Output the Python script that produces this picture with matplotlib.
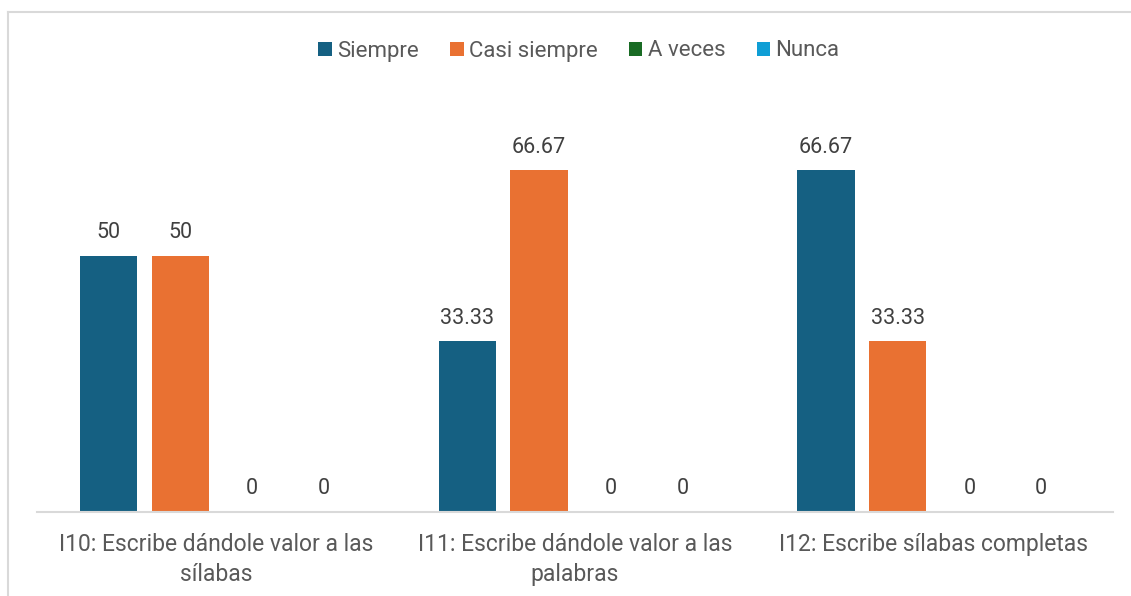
import matplotlib.pyplot as plt
from matplotlib.lines import Line2D
import numpy as np

categories = [
    "I10: Escribe dándole valor a las\nsílabas",
    "I11: Escribe dándole valor a las\npalabras",
    "I12: Escribe sílabas completas",
]
series_names = ["Siempre", "Casi siempre", "A veces", "Nunca"]
siempre = [50, 33.33, 66.67]
casi_siempre = [50, 66.67, 33.33]
a_veces = [0, 0, 0]
nunca = [0, 0, 0]
colors = ["#156082", "#E97132", "#196B24", "#0F9ED5"]

plt.rcParams["font.family"] = ["Roboto", "DejaVu Sans"]
text_color = "#595959"

fig = plt.figure(figsize=(11.31, 5.96), dpi=100)
ax = fig.add_axes([37 / 1131, 84 / 596, 1076 / 1131, 410 / 596])

x = np.arange(len(categories))
width = 0.16
offsets = [-0.3, -0.1, 0.1, 0.3]
for vals, name, color, off in zip([siempre, casi_siempre, a_veces, nunca], series_names, colors, offsets):
    bars = ax.bar(x + off, vals, width, color=color, label=name)
    ax.bar_label(bars, labels=[f"{v:g}" for v in vals], padding=9, fontsize=15.5, color="#404040")

ax.set_xlim(-0.5, 2.5)
ax.set_ylim(0, 80)
ax.set_xticks(x)
ax.set_xticklabels(categories, fontsize=16.5, color=text_color, linespacing=1.4)
ax.tick_params(axis="x", length=0, pad=15)
ax.set_yticks([])
for s in ["top", "right", "left"]:
    ax.spines[s].set_visible(False)
ax.spines["bottom"].set_color("#D9D9D9")
ax.spines["bottom"].set_linewidth(1.5)

fig.legend(loc="center", bbox_to_anchor=(579 / 1131, 1 - 51 / 596), ncol=4, frameon=False,
           fontsize=16, labelcolor=text_color, handlelength=0.6, handleheight=0.6,
           handletextpad=0.25, columnspacing=1.4)

# outer chart frame (cropped at right and bottom)
fig.add_artist(Line2D([8 / 1131, 8 / 1131], [0, 1 - 12 / 596], transform=fig.transFigure,
                      color="#D9D9D9", lw=1.5))
fig.add_artist(Line2D([8 / 1131, 1], [1 - 12 / 596, 1 - 12 / 596], transform=fig.transFigure,
                      color="#D9D9D9", lw=1.5))

fig.savefig("out.png", dpi=100)
